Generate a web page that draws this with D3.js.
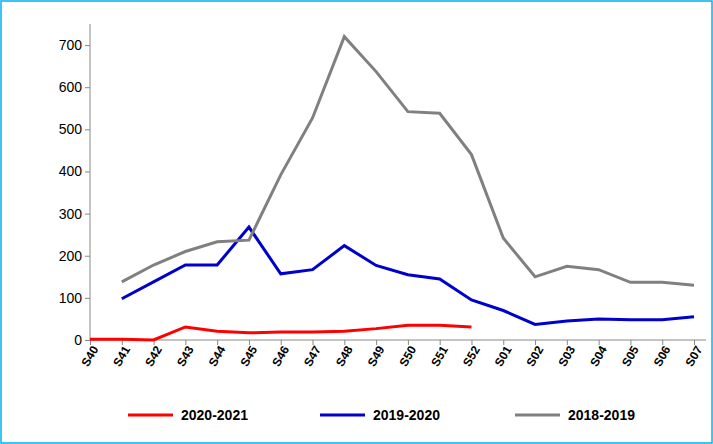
<!DOCTYPE html><html><head><script src="https://d3js.org/d3.v7.min.js"></script>
<style>body{margin:0;background:#fff}</style></head><body><script>
const categories=["S40","S41","S42","S43","S44","S45","S46","S47","S48","S49","S50","S51","S52","S01","S02","S03","S04","S05","S06","S07"];
const s2020=[2,2,0,31,21,17,19,19,21,27,35,35,31,null,null,null,null,null,null,null];
const s2019=[null,98,138,178,178,268,157,167,224,177,155,145,95,70,37,45,50,48,48,55];
const s2018=[null,138,178,210,233,237,392,527,720,637,542,538,440,242,150,175,167,137,137,130];
const seriesNames=["2020-2021","2019-2020","2018-2019"];
const colors=["#ff0000","#0000cc","#808080"];
const yTicks=[0,100,200,300,400,500,600,700];
const W=713,H=444;
const svg=d3.select("body").append("svg").attr("width",W).attr("height",H);
svg.append("rect").attr("x",1).attr("y",1).attr("width",W-2).attr("height",H-2).attr("fill","#fff").attr("stroke","#00b0f0").attr("stroke-width",1.5);
const x=d3.scalePoint().domain(categories).range([90,694]);
const y=d3.scaleLinear().domain([0,750]).range([340,24]);
const ax=svg.append("g").attr("transform","translate(0,340)").call(d3.axisBottom(x).tickSizeOuter(0).tickSize(5));
ax.select(".domain").attr("d","M90,0H706").attr("stroke","#888");
ax.selectAll(".tick line").attr("stroke","#888");
ax.selectAll("text").attr("transform","rotate(-60)").attr("text-anchor","end").attr("dx","-0.3em").attr("dy","0.3em").attr("font-family","Arial, Liberation Sans").attr("font-weight","bold").attr("font-size",12).attr("fill","#000");
const ay=svg.append("g").attr("transform","translate(90,0)").call(d3.axisLeft(y).tickValues(yTicks).tickSize(5).tickSizeOuter(0));
ay.select(".domain").attr("d","M0,"+y(750)+"V340").attr("stroke","#888");
ay.selectAll(".tick line").attr("stroke","#888");
ay.selectAll("text").attr("font-family","Arial, Liberation Sans").attr("font-size",14).attr("fill","#000");
[s2020,s2019,s2018].forEach((s,i)=>{
 const line=d3.line().defined(d=>d!=null).x((d,j)=>x(categories[j])).y(d=>y(d));
 svg.append("path").attr("d",line(s)).attr("fill","none").attr("stroke",colors[i]).attr("stroke-width",3);
});
const lx=[128,320,515];
seriesNames.forEach((n,i)=>{
 svg.append("line").attr("x1",lx[i]).attr("x2",lx[i]+45).attr("y1",415).attr("y2",415).attr("stroke",colors[i]).attr("stroke-width",3);
 svg.append("text").attr("x",lx[i]+53).attr("y",420).text(n).attr("font-family","Arial, Liberation Sans").attr("font-weight","bold").attr("font-size",14);
});
</script></body></html>
